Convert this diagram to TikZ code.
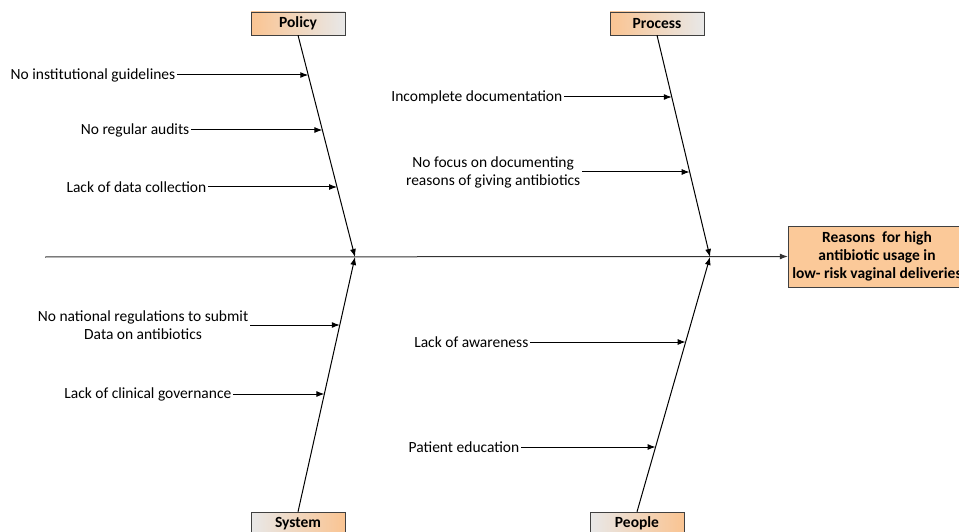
\documentclass[tikz,border=0pt]{standalone}
\usepackage{fontspec}
\setmainfont{Carlito}
\usetikzlibrary{positioning,calc,arrows.meta}
\definecolor{headOrange}{RGB}{250,196,146}
\definecolor{headGray}{RGB}{232,232,232}
\definecolor{effectFill}{RGB}{251,201,153}
\newcommand{\causefont}{\fontsize{15.5}{18}\selectfont}
\tikzset{
  catL/.style={rectangle, draw=black!75, left color=headOrange, right color=headGray, minimum width=94pt, minimum height=23pt, inner sep=0pt, font=\causefont\bfseries},
  catR/.style={rectangle, draw=black!75, left color=headGray, right color=headOrange, minimum width=94pt, minimum height=23pt, inner sep=0pt, font=\causefont\bfseries},
  effect/.style={rectangle, draw=black!75, fill=effectFill, minimum width=178pt, minimum height=61pt, align=center, font=\causefont\bfseries, inner sep=1pt},
  cause/.style={anchor=east, inner sep=1.5pt, align=center},
  bone/.style={draw=black, line width=1pt, -{Latex[length=8pt,width=6pt]}},
  spine/.style={draw=black!80, line width=1pt, -{Latex[length=8pt,width=6pt]}}
}

\begin{document}
\begin{tikzpicture}[x=1pt, y=-1pt, font=\causefont]
      \useasboundingbox (0,0) rectangle (959,532);
      \clip (0,0) rectangle (959,532);

      % head and spine
      \node[effect] (effect) at (877,256.5) {Reasons\ \ for high\\antibiotic usage in\\low- risk vaginal deliveries};
      \coordinate (tail) at (45,257);
      \coordinate (jA) at (355,257);
      \coordinate (jB) at (710,257);
      \draw[spine] (tail) -- (effect.west);

      % categories
      \node[catL] (policy) at (298,23.5) {Policy};
      \node[catL] (process) at (657,23.5) {Process};
      \node[catR] (system) at (298,523.5) {System};
      \node[catR] (people) at (637,523.5) {People};

      \draw[bone] (policy.south) -- (jA);
      \draw[bone] (process.south) -- (jB);
      \draw[bone] (system.north) -- (jA);
      \draw[bone] (people.north) -- (jB);

      % points on the bones
      \coordinate (p1) at ($(policy.south)!0.180!(jA)$);
      \coordinate (p2) at ($(policy.south)!0.428!(jA)$);
      \coordinate (p3) at ($(policy.south)!0.685!(jA)$);
      \coordinate (r1) at ($(process.south)!0.279!(jB)$);
      \coordinate (r2) at ($(process.south)!0.617!(jB)$);
      \coordinate (s1) at ($(jA)!0.267!(system.north)$);
      \coordinate (s2) at ($(jA)!0.537!(system.north)$);
      \coordinate (e1) at ($(jB)!0.333!(people.north)$);
      \coordinate (e2) at ($(jB)!0.745!(people.north)$);

      % causes
      \node[cause] (c1) at (177,75) {No institutional guidelines};
      \node[cause] (c2) at (191,130) {No regular audits};
      \node[cause] (c3) at (208,187) {Lack of data collection};
      \node[cause] (c4) at (564,97) {Incomplete documentation};
      \node[cause] (c5) at (582,172) {No focus on documenting\\reasons of giving antibiotics};
      \node[cause] (c6) at (250,325) {No national regulations to submit\\Data on antibiotics};
      \node[cause] (c7) at (233,394) {Lack of clinical governance};
      \node[cause] (c8) at (530,342) {Lack of awareness};
      \node[cause] (c9) at (521,447) {Patient education};

      \draw[bone] (c1.east) -- (c1.east -| p1);
      \draw[bone] (c2.east) -- (c2.east -| p2);
      \draw[bone] (c3.east) -- (c3.east -| p3);
      \draw[bone] (c4.east) -- (c4.east -| r1);
      \draw[bone] (c5.east) -- (c5.east -| r2);
      \draw[bone] (c6.east) -- (c6.east -| s1);
      \draw[bone] (c7.east) -- (c7.east -| s2);
      \draw[bone] (c8.east) -- (c8.east -| e1);
      \draw[bone] (c9.east) -- (c9.east -| e2);

    \end{tikzpicture}
\end{document}
